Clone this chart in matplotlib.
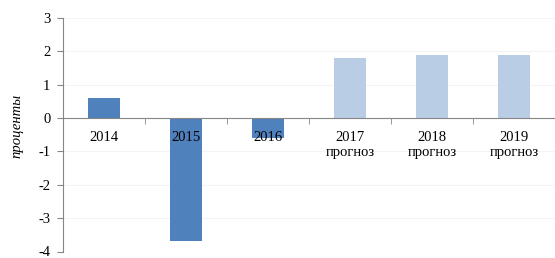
import matplotlib.pyplot as plt
import numpy as np

plt.rcParams['font.family'] = ['Liberation Serif', 'DejaVu Serif']
plt.rcParams['axes.unicode_minus'] = False

# chart data
years = ["2014", "2015", "2016", "2017\nпрогноз", "2018\nпрогноз", "2019\nпрогноз"]
values = [0.6, -3.7, -0.6, 1.8, 1.9, 1.9]
is_forecast = [False, False, False, True, True, True]

ACTUAL = "#4F81BD"
FORECAST = "#B9CDE5"
AXIS = "#868686"


def main():
    fig = plt.figure(figsize=(5.55, 2.58), dpi=100)
    ax = fig.add_axes([63 / 555, 1 - 251.5 / 258, 1 - 63 / 555, (251.5 - 18) / 258])

    x = np.arange(len(years))
    colors = [FORECAST if f else ACTUAL for f in is_forecast]
    ax.bar(x, values, width=0.4, color=colors, zorder=2)

    ax.set_xlim(-0.5, len(years) - 0.5)
    ax.set_ylim(-4, 3)
    ax.set_yticks(range(-4, 4))
    # faint gridlines drawn by hand so tick labels can stay above the bars
    for t in range(-3, 4):
        ax.axhline(t, color="#F4F4F4", linewidth=0.8, zorder=0)
    ax.set_axisbelow(False)

    for side in ["top", "right"]:
        ax.spines[side].set_visible(False)
    ax.spines["bottom"].set_position(("data", 0))
    ax.spines["bottom"].set_color(AXIS)
    ax.spines["left"].set_color(AXIS)
    ax.spines["bottom"].set_zorder(3)

    ax.set_xticks(x)
    ax.set_xticklabels(years, fontsize=10.5)
    ax.set_xticks(np.arange(0.5, len(years) - 0.5), minor=True)
    ax.tick_params(axis="x", which="major", length=0, pad=9)
    ax.tick_params(axis="x", which="minor", length=4, color=AXIS, direction="out")
    ax.tick_params(axis="y", length=4, color=AXIS, labelsize=10.5, pad=5)

    ax.set_ylabel("проценты", fontsize=10.5, style="italic")
    ax.yaxis.set_label_coords(-0.08, 0.536)

    plt.savefig("out.png", dpi=100)


if __name__ == '__main__':
    main()
